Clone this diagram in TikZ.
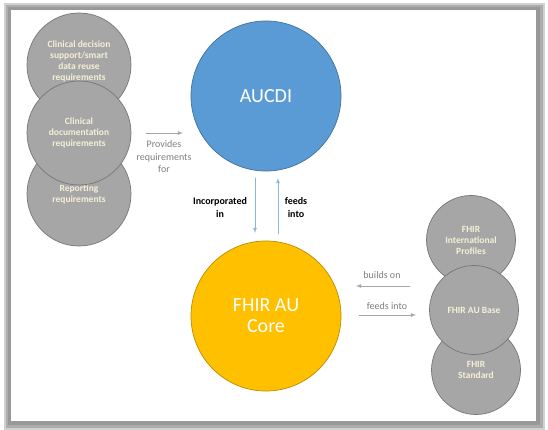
\documentclass[tikz,border=0pt]{standalone}
\usepackage{fontspec}
\setmainfont{Carlito}
\usetikzlibrary{arrows}
\definecolor{greyfill}{HTML}{A6A6A6}
\definecolor{greyline}{HTML}{767676}
\definecolor{cream}{HTML}{F4F0D6}
\definecolor{aucdiblue}{HTML}{5B9BD5}
\definecolor{aucdiline}{HTML}{41719C}
\definecolor{coreyellow}{HTML}{FFC000}
\definecolor{coreline}{HTML}{BC8C00}
\definecolor{arrowgrey}{HTML}{A6A6A6}
\definecolor{labelgrey}{HTML}{7F7F7F}
\definecolor{arrowblue}{HTML}{8AB6E3}
\begin{document}
\begin{tikzpicture}[x=1pt,y=-1pt,>=latex,line cap=round,line join=round,
  greycirc/.style={circle,draw=greyline,fill=greyfill,line width=0.7pt,minimum size=#1,inner sep=0pt,
    text=cream,align=center,font=\fontsize{9.5}{11}\selectfont\bfseries},
  circtext/.style={text=cream,align=center,font=\fontsize{9.5}{11}\selectfont\bfseries},
  bigcirc/.style={circle,line width=0.7pt,minimum size=150pt,inner sep=0pt,text=white,align=center,
    font=\fontsize{20}{21}\selectfont},
  greylabel/.style={text=labelgrey,align=center,font=\fontsize{10}{12.5}\selectfont},
  darklabel/.style={text=black,align=center,font=\fontsize{10}{13}\selectfont\bfseries},
  greyarrow/.style={->,draw=arrowgrey,line width=0.8pt},
  bluearrow/.style={->,draw=arrowblue,line width=0.8pt}]
\useasboundingbox (0,0) rectangle (548,430);
% frame with shadow
\fill[black!18] (4,3) rectangle (545,430);
\fill[black!32] (6,5) rectangle (543,428);
\fill[black!40] (8,7) rectangle (540,425);
\fill[white] (11,10) rectangle (536,421);
% requirement sources
\node[greycirc=104pt] (cds) at (79,65) {};
\node[circtext] (cds text) at (79,61) {Clinical decision\\support/smart\\data reuse\\requirements};
\node[greycirc=104pt] (report) at (79,194) {Reporting\\requirements};
\node[greycirc=104pt] (clindoc) at (79,133) {Clinical\\documentation\\requirements};
% FHIR base layers
\node[greycirc=89pt] (intprof) at (471,240) {FHIR\\International\\Profiles};
\node[greycirc=89pt] (fhirstd) at (476,370) {FHIR\\Standard};
\node[greycirc=89pt] (aubase) at (474,310) {FHIR AU Base};
% main circles
\node[bigcirc,draw=aucdiline,fill=aucdiblue] (aucdi) at (266,96) {AUCDI};
\node[bigcirc,draw=coreline,fill=coreyellow] (aucore) at (266,316) {FHIR AU\\Core};
% arrow ends
\coordinate (prov s) at (146,133);
\coordinate (prov e) at (183,133);
\coordinate (inc s) at (255,178);
\coordinate (inc e) at (255,233);
\coordinate (feed s) at (278,234);
\coordinate (feed e) at (278,178);
\coordinate (build s) at (410,286);
\coordinate (build e) at (356,286);
\coordinate (base s) at (359,315);
\coordinate (base e) at (416,315);
% connectors
\draw[greyarrow] (prov s) -- (prov e);
\draw[bluearrow] (inc s) -- (inc e);
\draw[bluearrow] (feed s) -- (feed e);
\draw[greyarrow] (build s) -- (build e);
\draw[greyarrow] (base s) -- (base e);
% labels
\node[greylabel] (provlbl) at (164,157) {Provides\\requirements\\for};
\node[darklabel] (inclbl) at (220,207.5) {Incorporated\\in};
\node[darklabel] (feedlbl) at (296,207.5) {feeds\\into};
\node[greylabel] (buildlbl) at (382,275) {builds on};
\node[greylabel] (baselbl) at (387,306) {feeds into};
\end{tikzpicture}
\end{document}
